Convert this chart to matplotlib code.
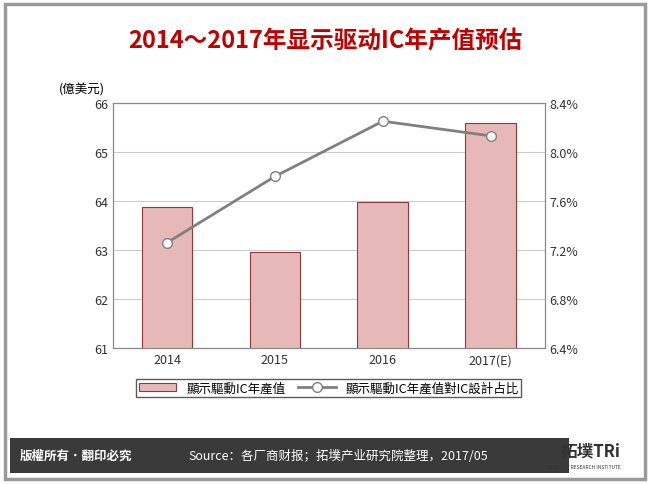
import matplotlib.pyplot as plt
from matplotlib.patches import Rectangle
from matplotlib.ticker import FuncFormatter
import numpy as np

plt.rcParams['font.family'] = ['Noto Sans CJK TC', 'DejaVu Sans']

years = ["2014", "2015", "2016", "2017(E)"]
output_value = [63.87, 62.97, 63.97, 65.58]   # 億美元
share_pct = [7.26, 7.80, 8.25, 8.13]          # %

fig = plt.figure(figsize=(6.5, 4.85), dpi=100)

# frame and header/footer
fig.patches.append(Rectangle((0.008, 0.01), 0.984, 0.98, transform=fig.transFigure,
                             fill=False, edgecolor="#9a9a9a", linewidth=2.5))
fig.patches.append(Rectangle((0.015, 0.023), 0.86, 0.072, transform=fig.transFigure,
                             facecolor="#3a3a3a", edgecolor="none"))
fig.text(0.5, 0.915, "2014～2017年显示驱动IC年产值预估", ha="center", va="center",
         fontsize=17, fontweight="bold", color="#c00000",
         family=['Noto Sans CJK SC', 'DejaVu Sans'])
fig.text(0.03, 0.059, "版權所有．翻印必究", ha="left", va="center", fontsize=9,
         color="white", fontweight="bold")
fig.text(0.29, 0.059, "Source：各厂商财报；拓墣产业研究院整理，2017/05", ha="left",
         va="center", fontsize=9, color="white", family=['Noto Sans CJK SC', 'DejaVu Sans'])
fig.text(0.955, 0.07, "拓墣TRi", ha="right", va="center", fontsize=12,
         color="#333333", fontweight="bold")
fig.text(0.955, 0.037, "TOPOLOGY RESEARCH INSTITUTE", ha="right", va="center",
         fontsize=3.5, color="#333333")

ax = fig.add_axes([0.174, 0.280, 0.664, 0.506])
x = np.arange(len(years))
ax.bar(x, output_value, width=0.47, color="#e6b9b8", edgecolor="#8c3a3a",
       linewidth=0.8, label="顯示驅動IC年產值", zorder=2)
ax.set_ylim(61, 66)
ax.set_yticks(range(61, 67))
ax.set_xlim(-0.5, 3.5)
ax.set_xticks(x)
ax.set_xticklabels(years)
ax.grid(axis="y", color="#cccccc", linewidth=0.8, zorder=0)
ax.tick_params(labelsize=9, colors="#333333", length=0)
for s in ax.spines.values():
    s.set_color("#888888")
ax.text(-0.02, 1.03, "(億美元)", transform=ax.transAxes, ha="right", va="bottom", fontsize=9)

ax2 = ax.twinx()
ax2.plot(x, share_pct, color="#808080", linewidth=2, marker="o", markersize=7,
         markerfacecolor="white", markeredgecolor="#808080", label="顯示驅動IC年產值對IC設計占比")
ax2.set_ylim(6.4, 8.4)
ax2.set_yticks(np.arange(6.4, 8.41, 0.4))
ax2.yaxis.set_major_formatter(FuncFormatter(lambda v, p: f"{v:.1f}%"))
ax2.tick_params(labelsize=9, colors="#333333", length=0)
for s in ax2.spines.values():
    s.set_color("#888888")

h1, l1 = ax.get_legend_handles_labels()
h2, l2 = ax2.get_legend_handles_labels()
ax.legend(h1 + h2, l1 + l2, loc="upper center", bbox_to_anchor=(0.5, -0.1), ncol=2,
          fontsize=9, frameon=True, fancybox=False, edgecolor="#333333",
          handlelength=3, borderpad=0.2, columnspacing=1.0)

fig.savefig("out.png", dpi=100)
